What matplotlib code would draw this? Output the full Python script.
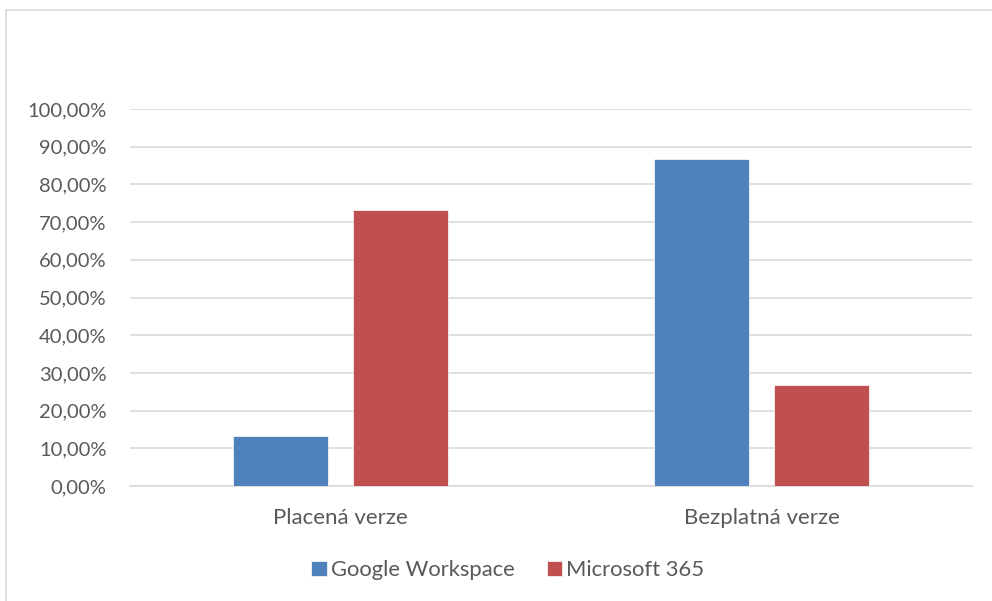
import matplotlib.pyplot as plt
import numpy as np
from matplotlib.patches import Rectangle
from matplotlib.ticker import FuncFormatter

categories = ["Placená verze", "Bezplatná verze"]
series = ["Google Workspace", "Microsoft 365"]
google = [13.3, 86.7]
microsoft = [73.1, 26.9]
yticks = [0, 10, 20, 30, 40, 50, 60, 70, 80, 90, 100]

colors = ["#4F81BD", "#C0504D"]
text_color = "#595959"
grid_color = "#D9D9D9"

plt.rcParams["font.family"] = ["Lato", "DejaVu Sans"]

fig = plt.figure(figsize=(9.92, 6.01), dpi=100)
ax = fig.add_axes([130 / 992, 1 - 486 / 601, 842 / 992, 377 / 601])

x = np.arange(len(categories))
width = 0.2245
offset = 0.1428
ax.bar(x - offset, google, width, color=colors[0], label=series[0],
       edgecolor="white", linewidth=0.5, zorder=3)
ax.bar(x + offset, microsoft, width, color=colors[1], label=series[1],
       edgecolor="white", linewidth=0.5, zorder=3)

ax.set_xlim(-0.5, 1.5)
ax.set_ylim(0, 100)
ax.set_yticks(yticks)
ax.yaxis.set_major_formatter(FuncFormatter(lambda v, p: f"{v:.2f}".replace(".", ",") + "%"))
ax.set_xticks(x)
ax.set_xticklabels(categories)
ax.tick_params(axis="both", length=0, colors=text_color)
ax.tick_params(axis="x", pad=16, labelsize=16)
ax.tick_params(axis="y", pad=17, labelsize=14.5)

ax.grid(axis="y", color=grid_color, linewidth=1.2, zorder=0)
for s in ["top", "right", "left"]:
    ax.spines[s].set_visible(False)
ax.spines["bottom"].set_color(grid_color)
ax.spines["bottom"].set_linewidth(1.2)
ax.spines["bottom"].set_zorder(1)

leg = fig.legend(loc="center", bbox_to_anchor=(508 / 992, 1 - 570 / 601), ncol=2,
                 frameon=False, fontsize=15.8, handlelength=0.7, handleheight=0.7,
                 handletextpad=0.2, columnspacing=1.45, labelcolor=text_color)

fig.patches.append(Rectangle((6 / 992, -0.1), 1.1, 1.1 - 10 / 601, transform=fig.transFigure,
                             fill=False, edgecolor=grid_color, linewidth=1.2))

fig.savefig("out.png", dpi=100)
